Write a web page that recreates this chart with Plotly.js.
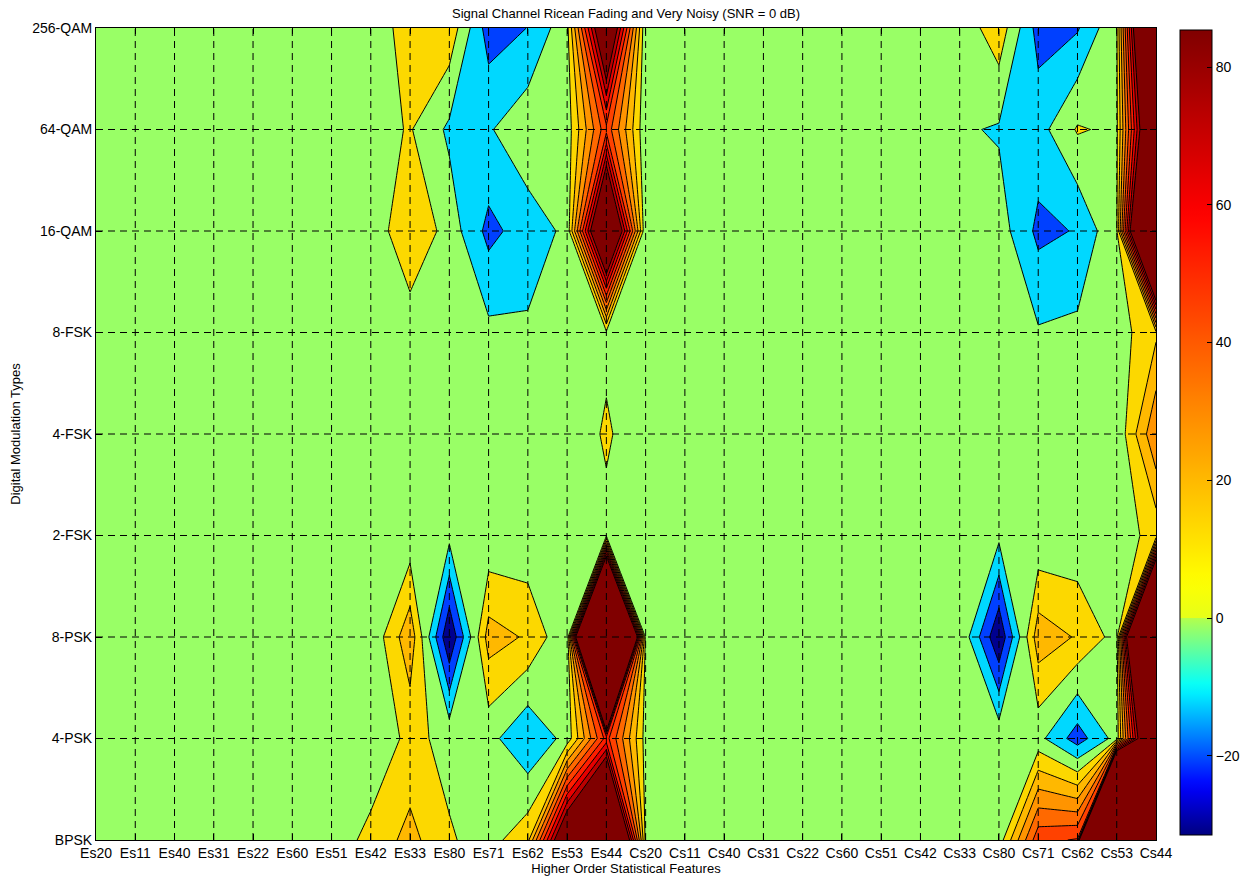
<!DOCTYPE html>
<html>
<head>
<meta charset="utf-8">
<script src="https://cdn.plot.ly/plotly-3.0.1.min.js"></script>
<style>
  html, body { margin: 0; padding: 0; background: #fff; }
  #chart { width: 1241px; height: 881px; }
</style>
</head>
<body>
<div id="chart"></div>
<script>
// ---------- data ----------
const features = ["Es20","Es11","Es40","Es31","Es22","Es60","Es51","Es42","Es33","Es80","Es71","Es62","Es53","Es44",
                  "Cs20","Cs11","Cs40","Cs31","Cs22","Cs60","Cs51","Cs42","Cs33","Cs80","Cs71","Cs62","Cs53","Cs44"];
const modulations = ["BPSK","4-PSK","8-PSK","2-FSK","4-FSK","8-FSK","16-QAM","64-QAM","256-QAM"];

//                Es20 Es11 Es40 Es31 Es22 Es60 Es51 Es42  Es33  Es80   Es71  Es62  Es53  Es44  Cs20 Cs11 Cs40 Cs31 Cs22 Cs60 Cs51 Cs42 Cs33  Cs80   Cs71  Cs62  Cs53 Cs44
const bpsk   = [ -4,  -4,  -4,  -4,  -4,  -4, -5.8,  3.1, 13.4,   1.0,  -4.0,  7.0,  115,  200,  -3,  -4,  -4,  -4,  -4,  -4,  -4,  -4,  -4,  -5.7,  47.0, 51.0,  700, 500];
const psk4   = [ -4,  -4,  -4,  -4,  -4,  -4,  -4,  -7.7,  2.7,  -2.9,  -6.6, -19.0, -6.6,  54,  -4,  -4,  -4,  -4,  -4,  -4,  -4,  -4,  -4,  -3.6,  -6.8, -25.0, -6.0, 153];
const psk8   = [ -4,  -4,  -4,  -4,  -4,  -4,  -4,  -8.0, 17.0, -39.5,  14.5,  8.7, -9.0,  400,  -3,  -4,  -4,  -4,  -4,  -4,  -4,  -4,  -1, -39.0,  15.8,  9.0, -4.0, 332];
const fsk2   = [ -4,  -4,  -4,  -4,  -4,  -4,  -4,  -4.0, -6.3,  -7.4,  -8.0, -7.7, -4.0,  -2,  -4,  -4,  -4,  -4,  -4,  -4,  -4,  -4,  -4,  -7.8,  -8.1, -7.5, -4.3,   3];
const fsk4   = [ -4,  -4,  -4,  -4,  -4,  -4,  -4,  -4.0, -4.0,  -4.0,  -4.0, -4.0, -5.0,   1,  -5,  -4,  -4,  -4,  -4,  -4,  -4,  -4,  -4,  -4.0,  -4.0, -4.0, -8.0,  29];
const fsk8   = [ -4,  -4,  -4,  -4,  -4,  -4,  -4,  -4.0, -6.3,  -4.0,  -7.5, -8.6, -4.0, -1.8, -4,  -4,  -4,  -4,  -4,  -4,  -4,  -4,  -4,  -4.0,  -9.0, -7.5, -5.0,   8];
const qam16  = [ -4,  -4,  -4,  -4,  -4,  -4,  -4,  -7.6,  9.5,  -4.4, -23.0, -15.0, -8.0, 140,  -9,  -4,  -4,  -4,  -4,  -4,  -4,  -4,  -4,  -5.0, -22.5, -19.3, -1.0, 237];
const qam64  = [ -4,  -4,  -4,  -4,  -4,  -4,  -4,  -4.0,  0.8, -12.0, -11.0, -3.0, -5.7,  47,  -8,  -4,  -4,  -4,  -4,  -4,  -4,  -4, -8.6, -11.1, -14.0,  1.0, -2.0, 137];
const qam256 = [ -4,  -4,  -4,  -4,  -4,  -4,  -4,  -4.0,  3.1,   7.0, -25.0, -19.8, -3.0, 115,  -9,  -4,  -4,  -4,  -4,  -4,  -4,  -4, -6.9,   6.4, -24.0, -21.0, -1.0, 190];

const colorbarMin = -31.5;
const colorbarMax = 85.4;
const colorbarTicks = [-20, 0, 20, 40, 60, 80];

// ---------- build ----------
const xIdx = features.map((_, i) => i);
const yIdx = modulations.map((_, i) => i);
const zRows = [bpsk, psk4, psk8, fsk2, fsk4, fsk8, qam16, qam64, qam256];

// band colours (lowest band .. highest band), one per contour band
const bandColors = [
  "rgb(0,0,143)", "rgb(0,64,255)", "rgb(0,216,255)", "rgb(153,255,102)",
  "rgb(252,216,0)", "rgb(255,184,0)", "rgb(255,148,0)", "rgb(255,105,0)",
  "rgb(255,65,0)", "rgb(255,30,0)", "rgb(232,0,0)", "rgb(188,0,0)", "rgb(128,0,0)"
];
const nb = bandColors.length;
const bandScale = bandColors.map((c, k) => [k / (nb - 1), c]);

// smooth colormap for the colorbar (jet, split at zero)
function jet(t) {
  const c = v => Math.max(0, Math.min(1, v));
  const r = Math.round(255 * c(1.5 - Math.abs(4 * t - 3)));
  const g = Math.round(255 * c(1.5 - Math.abs(4 * t - 2)));
  const b = Math.round(255 * c(1.5 - Math.abs(4 * t - 1)));
  return `rgb(${r},${g},${b})`;
}
const p0 = (0 - colorbarMin) / (colorbarMax - colorbarMin);
const cbScale = [];
for (let i = 0; i <= 20; i++) {
  cbScale.push([p0 * i / 20, jet(0.55 * i / 20)]);
}
for (let i = 0; i <= 40; i++) {
  cbScale.push([p0 + (1 - p0) * i / 40, jet(0.6 + 0.4 * i / 40)]);
}

const FONT = "Liberation Sans, Arial, Helvetica, sans-serif";

const contourTrace = {
  type: "contour",
  x: xIdx,
  y: yIdx,
  z: zRows,
  autocontour: false,
  contours: { start: -30, end: 80, size: 10, coloring: "fill", showlines: true },
  line: { color: "black", width: 1, smoothing: 0 },
  colorscale: bandScale,
  showscale: false,
  hoverinfo: "skip"
};

const cbTrace = {
  type: "scatter",
  mode: "markers",
  x: [xIdx[0]],
  y: [yIdx[0]],
  hoverinfo: "skip",
  showlegend: false,
  marker: {
    size: 1, opacity: 0,
    color: [colorbarMin],
    cmin: colorbarMin, cmax: colorbarMax,
    colorscale: cbScale,
    showscale: true,
    colorbar: {
      x: 1.0226, xanchor: "left", xref: "paper",
      y: 0.5019, yanchor: "middle",
      lenmode: "pixels", len: 805,
      thickness: 32, thicknessmode: "pixels",
      outlinecolor: "black", outlinewidth: 1,
      xpad: 0, ypad: 0,
      ticks: "inside", ticklen: 5, tickcolor: "black",
      tickvals: colorbarTicks,
      tickfont: { family: FONT, size: 14, color: "black" }
    }
  }
};

// dashed grid on top of the fills
const shapes = [];
xIdx.slice(1, -1).forEach(i => shapes.push({
  type: "line", xref: "x", yref: "y", x0: i, x1: i, y0: yIdx[0], y1: yIdx[yIdx.length - 1],
  line: { color: "black", width: 1, dash: "7px,5px" }, layer: "above"
}));
yIdx.slice(1, -1).forEach(j => shapes.push({
  type: "line", xref: "x", yref: "y", x0: xIdx[0], x1: xIdx[xIdx.length - 1], y0: j, y1: j,
  line: { color: "black", width: 1, dash: "7px,5px" }, layer: "above"
}));

const layout = {
  width: 1241, height: 881,
  margin: { l: 96, r: 85, t: 28, b: 41, autoexpand: false },
  paper_bgcolor: "white", plot_bgcolor: "white",
  font: { family: FONT, size: 14, color: "black" },
  showlegend: false,
  title: {
    text: "Signal Channel Ricean Fading and Very Noisy (SNR = 0 dB)",
    font: { family: FONT, size: 13, color: "black" },
    x: 0.5, xref: "paper", xanchor: "center",
    y: 1 - 13 / 881, yref: "container", yanchor: "middle"
  },
  xaxis: {
    range: [xIdx[0], xIdx[xIdx.length - 1]],
    tickvals: xIdx, ticktext: features,
    ticks: "inside", ticklen: 6, tickcolor: "black",
    showline: true, linecolor: "black", linewidth: 1, mirror: "ticks",
    showgrid: false, zeroline: false,
    tickfont: { family: FONT, size: 14, color: "black" },
    layer: "above traces",
    automargin: false,
    title: { text: "Higher Order Statistical Features", font: { family: FONT, size: 13, color: "black" }, standoff: 2 }
  },
  yaxis: {
    range: [yIdx[0], yIdx[yIdx.length - 1]],
    tickvals: yIdx, ticktext: modulations,
    ticks: "inside", ticklen: 6, tickcolor: "black",
    showline: true, linecolor: "black", linewidth: 1, mirror: "ticks",
    showgrid: false, zeroline: false,
    tickfont: { family: FONT, size: 14, color: "black" },
    layer: "above traces",
    automargin: false,
    title: { text: "Digital Modulation Types", font: { family: FONT, size: 13, color: "black" }, standoff: 8 }
  },
  shapes: shapes
};

Plotly.newPlot("chart", [contourTrace, cbTrace], layout, { displayModeBar: false, staticPlot: true });
</script>
</body>
</html>
